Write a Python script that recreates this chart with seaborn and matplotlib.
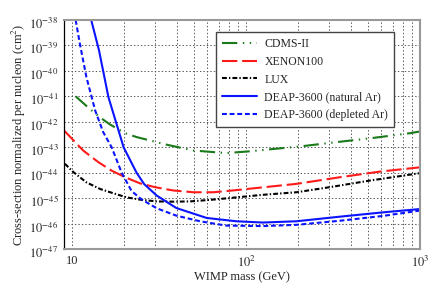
import numpy as np
import matplotlib
matplotlib.use("Agg")
import matplotlib.pyplot as plt
import matplotlib.ticker as mticker
import matplotlib.transforms as mtransforms
import seaborn as sns

# WIMP mass (GeV) and log10 of cross-section (cm^2)
cdms_mass = [10.5, 12.4, 14.5, 16.5, 20.2, 23.5, 35, 50, 77, 101, 204, 331, 516, 874, 1000]
cdms_logxs = [-41.0, -41.44, -41.83, -42.1, -42.45, -42.6, -42.9, -43.13, -43.23, -43.17,
              -42.97, -42.8, -42.65, -42.45, -42.38]

xenon_mass = [9.0, 11.6, 14.2, 16.9, 20.2, 24.6, 30, 38.2, 50, 65, 81, 195, 346, 585, 1000]
xenon_logxs = [-42.34, -43.13, -43.59, -43.92, -44.18, -44.42, -44.57, -44.7, -44.77, -44.77,
               -44.71, -44.44, -44.18, -43.96, -43.79]

lux_mass = [9.1, 10.2, 12.1, 14.5, 17.3, 20.6, 24.6, 30.7, 38.2, 47.6, 62, 80, 125, 195, 303, 516, 1000]
lux_logxs = [-43.65, -43.98, -44.38, -44.64, -44.81, -44.97, -45.06, -45.13, -45.14, -45.13,
             -45.07, -45.0, -44.87, -44.77, -44.57, -44.31, -44.02]

deap_nat_mass = [12.9, 14.3, 16.2, 19.8, 23.5, 26, 30.7, 39.8, 59.4, 88, 125, 195, 346, 613, 1000]
deap_nat_logxs = [-38.0, -39.19, -41.03, -43.0, -44.0, -44.45, -44.9, -45.39, -45.78, -45.91,
                  -45.96, -45.91, -45.73, -45.56, -45.43]

deap_dep_mass = [10.5, 11.1, 12.1, 13.6, 15.1, 16.9, 19.3, 22, 25.1, 30.7, 39.8, 54.4, 77, 125,
                 195, 346, 613, 1000]
deap_dep_logxs = [-38.0, -38.93, -40.24, -41.56, -42.4, -43.0, -44.0, -44.72, -45.05, -45.4,
                  -45.69, -45.91, -46.08, -46.1, -46.05, -45.89, -45.7, -45.49]

sns.set_style("white")
plt.rcParams['font.family'] = ['Liberation Serif', 'DejaVu Serif']
plt.rcParams['mathtext.fontset'] = 'stix'
plt.rcParams['lines.scale_dashes'] = False

fig = plt.figure(figsize=(4.36, 2.92), dpi=100)
ax = fig.add_axes([64 / 436, 1 - 249 / 292, 356 / 436, 229 / 292])

curves = [
    (cdms_mass, cdms_logxs, "CDMS-II", "#1a7a1a", (0, (11, 4, 1, 4, 1, 4))),
    (xenon_mass, xenon_logxs, "XENON100", "#ff1a1a", (0, (11, 3.5))),
    (lux_mass, lux_logxs, "LUX", "black", (0, (3.5, 1.5, 1, 1.5))),
    (deap_nat_mass, deap_nat_logxs, "DEAP-3600 (natural Ar)", "#0a14ff", "-"),
    (deap_dep_mass, deap_dep_logxs, "DEAP-3600 (depleted Ar)", "#0a14ff", (0, (3.5, 2))),
]
for m, lx, name, col, ls in curves:
    sns.lineplot(x=np.array(m), y=10.0 ** np.array(lx), ax=ax, color=col, linestyle=ls,
                 linewidth=1.5, label=name, sort=False, legend=False)

ax.set_xscale("log")
ax.set_yscale("log")
ax.set_xlim(9, 1000)
ax.set_ylim(1e-47, 1e-38)


def pow10(v, pos):
    e = int(round(np.log10(v)))
    if e == 1:
        return "10"
    return r"$10^{%d}$" % e


ax.xaxis.set_major_locator(mticker.LogLocator(base=10, numticks=10))
ax.xaxis.set_minor_locator(mticker.LogLocator(base=10, subs=np.arange(2, 10), numticks=50))
ax.yaxis.set_major_locator(mticker.LogLocator(base=10, numticks=20))
ax.yaxis.set_minor_locator(mticker.LogLocator(base=10, subs=np.arange(2, 10), numticks=100))
ax.xaxis.set_major_formatter(mticker.FuncFormatter(pow10))
ax.yaxis.set_major_formatter(mticker.FuncFormatter(pow10))
ax.xaxis.set_minor_formatter(mticker.NullFormatter())
ax.yaxis.set_minor_formatter(mticker.NullFormatter())

ax.grid(True, which="both", axis="x", linestyle=(0, (1, 1.5)), color="#555555", linewidth=0.7)
ax.grid(True, which="major", axis="y", linestyle=(0, (1, 1.5)), color="#555555", linewidth=0.7)
ax.set_axisbelow(True)

ax.tick_params(which="both", direction="in", top=False, right=False, labelsize=9)
ax.tick_params(which="major", length=5, width=0.8, color="black", pad=4)
ax.tick_params(which="minor", length=4, width=0.8, color="#888888")

# nudge y tick labels down a little, as in the original
fig.canvas.draw()
shift = mtransforms.ScaledTranslation(0, -2 / 72, fig.dpi_scale_trans)
for lab in ax.get_yticklabels():
    lab.set_transform(lab.get_transform() + shift)

for side in ["top", "right", "bottom"]:
    ax.spines[side].set_color("#999999")
    ax.spines[side].set_linewidth(1.5)
ax.spines["left"].set_color("black")
ax.spines["left"].set_linewidth(0.9)

ax.set_xlabel("WIMP mass (GeV)", fontsize=9, labelpad=1)
ax.set_ylabel("Cross-section normalized per nucleon (cm$^2$)", fontsize=9, labelpad=1)

leg = ax.legend(loc="upper right", bbox_to_anchor=(0.927, 0.948), fontsize=8.5, frameon=True,
                fancybox=False, handlelength=3.0, handletextpad=0.6, labelspacing=0.5,
                borderpad=0.5, borderaxespad=0)
leg.get_frame().set_edgecolor("#444444")
leg.get_frame().set_linewidth(1.0)
leg.get_frame().set_alpha(1)

fig.savefig("out.png", dpi=100)
